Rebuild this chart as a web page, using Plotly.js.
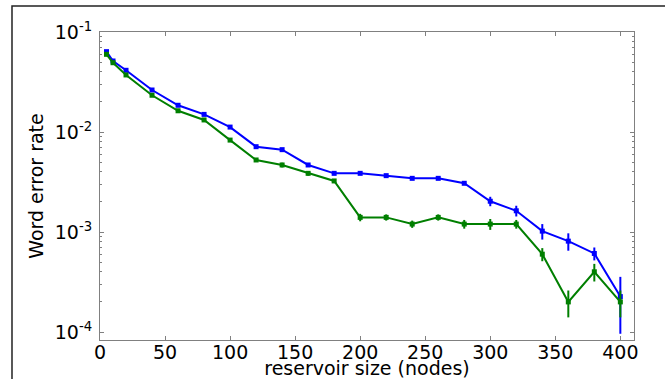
<!DOCTYPE html>
<html>
<head>
<meta charset="utf-8">
<script src="https://cdn.plot.ly/plotly-3.0.1.min.js"></script>
<style>html,body{margin:0;padding:0;background:#fff;}#chart{width:665px;height:379px;}</style>
</head>
<body>
<div id="chart"></div>
<script>
// reservoir sizes (nodes)
const sizes = [5, 10, 20, 40, 60, 80, 100, 120, 140, 160, 180, 200, 220, 240, 260, 280, 300, 320, 340, 360, 380, 400];
// blue series: word error rate and error bar half-width
const blueWER = [0.0636, 0.0513, 0.0414, 0.0263, 0.0185, 0.0150, 0.0112, 0.00713, 0.00666, 0.00468, 0.00386, 0.00386, 0.00366, 0.00344, 0.00344, 0.00307, 0.00203, 0.00163, 0.00102, 0.00081, 0.00061, 0.000226];
const blueErr = [0.0015, 0.001, 0.0008, 0.0005, 0.0004, 0.0003, 0.0003, 0.00015, 0.00015, 0.0001, 0.0001, 0.00008, 0.0001, 0.00008, 0.00008, 0.0001, 0.00022, 0.0002, 0.00018, 0.00016, 0.00009, 0.00013];
// green series
const greenWER = [0.0598, 0.0493, 0.0372, 0.0233, 0.0163, 0.0132, 0.0083, 0.00525, 0.00468, 0.00386, 0.00324, 0.0014, 0.0014, 0.0012, 0.0014, 0.0012, 0.0012, 0.0012, 0.0006, 0.0002, 0.0004, 0.0002];
const greenErr = [0.0015, 0.001, 0.0008, 0.0005, 0.0004, 0.0003, 0.0002, 0.00015, 0.00025, 0.0002, 0.00015, 0.00012, 0.0001, 0.0001, 0.0001, 0.00012, 0.00015, 0.00012, 0.00009, 0.00006, 0.00008, 0.00006];
// tick labels
const yTickVals = [1e-4, 1e-3, 1e-2, 1e-1];
const yTickText = ['10<sup>-4</sup>', '10<sup>-3</sup>', '10<sup>-2</sup>', '10<sup>-1</sup>'];
const xTickVals = [0, 50, 100, 150, 200, 250, 300, 350, 400];

const yMinor = [];
[1e-4, 1e-3, 1e-2].forEach(d => { for (let k = 2; k <= 9; k++) yMinor.push(k * d); });

function series(y, err, color) {
  return {
    x: sizes, y: y, type: 'scatter', mode: 'lines+markers',
    line: {color: color, width: 2},
    marker: {color: color, size: 5, symbol: 'square'},
    error_y: {type: 'data', array: err, visible: true, color: color, thickness: 2, width: 0},
    showlegend: false, cliponaxis: true
  };
}

const data = [series(blueWER, blueErr, '#0000ff'), series(greenWER, greenErr, '#007f00')];

const axisFont = {family: 'DejaVu Sans, sans-serif', size: 19, color: '#000'};
const layout = {
  width: 665, height: 379,
  margin: {l: 100, r: 31, t: 32, b: 39},
  paper_bgcolor: '#fff', plot_bgcolor: '#fff',
  font: axisFont,
  xaxis: {
    range: [0, 410.5], tickmode: 'array', tickvals: xTickVals,
    ticks: 'inside', ticklen: 4, tickcolor: '#808080',
    showline: true, linecolor: '#808080', linewidth: 1, mirror: 'ticks',
    showgrid: false, zeroline: false, tickfont: axisFont, ticklabelstandoff: -5,
    title: {text: 'reservoir size (nodes)', font: axisFont, standoff: 1}
  },
  yaxis: {
    type: 'log', range: [-4.08, -1], tickmode: 'array', tickvals: yTickVals, ticktext: yTickText,
    ticks: 'inside', ticklen: 4, tickcolor: '#808080',
    minor: {tickmode: 'array', tickvals: yMinor, ticks: 'inside', ticklen: 2, tickcolor: '#808080', showgrid: false},
    showline: true, linecolor: '#808080', linewidth: 1, mirror: 'ticks',
    showgrid: false, zeroline: false, tickfont: axisFont, ticklabelstandoff: 3,
    title: {text: 'Word error rate', font: axisFont, standoff: 6}
  },
  shapes: [{
    type: 'rect', xref: 'paper', yref: 'paper',
    x0: -0.1648, x1: 1.3, y0: -0.3, y1: 1.0844,
    line: {color: '#222', width: 1.5}, layer: 'below'
  }]
};

Plotly.newPlot('chart', data, layout, {displayModeBar: false, staticPlot: true});
</script>
</body>
</html>
